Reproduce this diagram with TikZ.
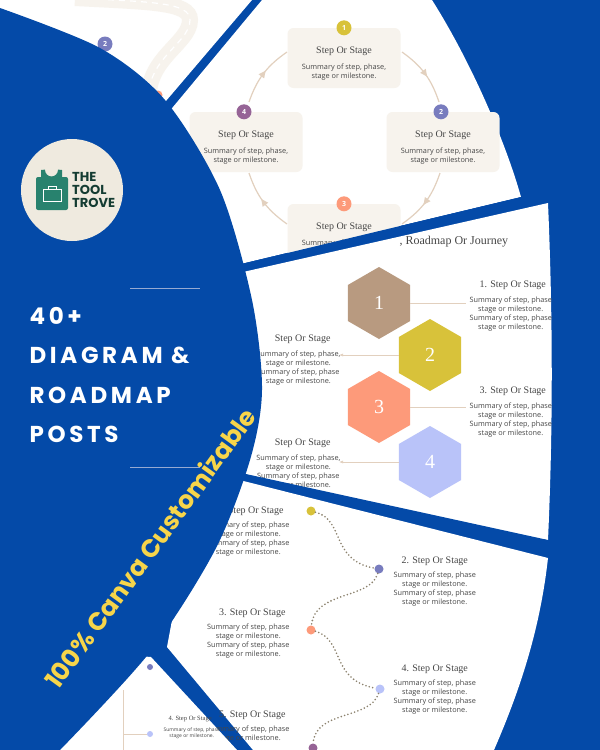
\documentclass[tikz,border=0pt]{standalone}
\usepackage{fontspec}
\setmainfont{Open Sans}
\newfontfamily\pop[LetterSpace=16]{Poppins Bold}
\newfontfamily\popb{Poppins Bold}
\newfontfamily\ser{Liberation Serif}
\usetikzlibrary{shapes.geometric,arrows.meta,decorations.markings}
\definecolor{bg}{RGB}{4,74,168}
\definecolor{cream}{RGB}{247,243,237}
\definecolor{beige}{RGB}{226,208,190}
\definecolor{cy}{RGB}{216,194,58}
\definecolor{cb}{RGB}{120,124,190}
\definecolor{cs}{RGB}{253,154,122}
\definecolor{cp}{RGB}{150,100,150}
\definecolor{cl}{RGB}{185,195,249}
\definecolor{cbr}{RGB}{184,154,128}
\definecolor{txt}{RGB}{70,70,70}
\definecolor{ylw}{RGB}{247,213,74}
\definecolor{dotc}{RGB}{140,130,110}
\definecolor{logobg}{RGB}{239,234,223}
\definecolor{logotx}{RGB}{20,60,50}
\definecolor{logog}{RGB}{40,130,110}
\definecolor{rule}{RGB}{150,170,210}
\tikzset{
 panel/.style={fill=white,draw=none},
 cbox/.style={fill=cream,rounded corners=6pt,minimum width=113pt,minimum height=60pt},
 num/.style={circle,minimum size=15pt,inner sep=0pt,text=white,font=\fontsize{7}{7}\selectfont\bfseries},
 head/.style={font=\ser\fontsize{10}{10}\selectfont,text=txt},
 summ/.style={font=\fontsize{7.3}{9}\selectfont,text=txt,align=center},
 hex/.style={regular polygon,regular polygon sides=6,shape border rotate=30,minimum size=72pt,inner sep=0pt,text=white,font=\ser\fontsize{20}{20}\selectfont},
 dot/.style={circle,minimum size=9pt,inner sep=0pt},
 cyc/.style={beige,line width=1.2pt,postaction={decorate},decoration={markings,mark=at position 0.5 with {\fill (3.5pt,0) -- (-3.5pt,3.5pt) -- (-3.5pt,-3.5pt) -- cycle;}}},
 dots/.style={draw=dotc,line width=1.8pt,dash pattern=on 0pt off 3.5pt,line cap=round},
 big/.style={text=white,font=\pop\fontsize{23}{23}\selectfont,anchor=west}
}
\begin{document}
\begin{tikzpicture}[x=1pt,y=-1pt]
\fill[bg] (0,0) rectangle (600,750);
\useasboundingbox (0,0) rectangle (600,750);
% road panel
\begin{scope}
\clip (0,0) -- (252,0) -- (160,108) -- (0,108) -- cycle;
\fill[panel] (0,0) rectangle (260,110);
\draw[cream,line width=16pt] (75,-2) .. controls (150,2) and (190,2) .. (190,20) .. controls (190,45) and (140,60) .. (150,110);
\draw[white,line width=1.2pt,dash pattern=on 6pt off 5pt] (75,-2) .. controls (150,2) and (190,2) .. (190,20) .. controls (190,45) and (140,60) .. (150,110);
\end{scope}
\node[num,fill=cb] (r2) at (105,44) {2};
\node[dot,fill=cs] (r3) at (158,95) {};
% cycle panel
\fill[panel] (262,0) -- (432,0) .. controls (470,60) and (505,140) .. (521,197) -- (190,276) -- (168,113) -- cycle;
\node[cbox] (b1) at (344,58) {};
\node[cbox] (b2) at (443,142) {};
\node[cbox] (b3) at (344,234) {};
\node[cbox] (b4) at (246,142) {};
\foreach \b in {1,2,3,4}{
 \node[head,anchor=south] (h\b) at ([yshift=-1pt]b\b.center) {Step Or Stage};
 \node[summ,anchor=north] (s\b) at ([yshift=-2pt]b\b.center) {Summary of step, phase,\\stage or milestone.};}
\node[num,fill=cy] (n1) at (b1.north) {1};
\node[num,fill=cb] (n2) at ([xshift=-2pt]b2.north) {2};
\node[num,fill=cs] (n3) at (b3.north) {3};
\node[num,fill=cp] (n4) at ([xshift=-2pt]b4.north) {4};
\coordinate (a1s) at (402,52); \coordinate (a1e) at (439,102);
\coordinate (a2s) at (440,173); \coordinate (a2e) at (402,224);
\coordinate (a3s) at (287,224); \coordinate (a3e) at (249,173);
\coordinate (a4s) at (249,102); \coordinate (a4e) at (287,52);
\draw[cyc] (a1s) to[bend left=18] (a1e);
\draw[cyc] (a2s) to[bend left=18] (a2e);
\draw[cyc] (a3s) to[bend left=18] (a3e);
\draw[cyc] (a4s) to[bend left=18] (a4e);
% stripe
\fill[bg] (521,197) -- (600,178) -- (600,300) -- (150,300) -- (150,286) -- cycle;
% hex panel
\fill[panel] (190,284) -- (548,203) .. controls (553,320) and (553,430) .. (548,540) -- (525,537) -- (200,464) -- cycle;
\node[head,font=\ser\fontsize{12}{12}\selectfont,anchor=west] (title) at (396,242) {, Roadmap Or Journey};
\node[hex,fill=cbr] (x1) at (379,303) {1};
\node[hex,fill=cy] (x2) at (430,355) {2};
\node[hex,fill=cs] (x3) at (379,407) {3};
\node[hex,fill=cl] (x4) at (430,462) {4};
\node[head,anchor=west] (t1) at (476,285) {1. Step Or Stage};
\node[summ,anchor=north west] (u1) at (466,293) {Summary of step, phase\\stage or milestone.\\Summary of step, phase\\stage or milestone.};
\node[head,anchor=west] (t3) at (476,391) {3. Step Or Stage};
\node[summ,anchor=north west] (u3) at (466,399) {Summary of step, phase\\stage or milestone.\\Summary of step, phase\\stage or milestone.};
\node[head,anchor=east] (t2) at (334,339) {Step Or Stage};
\node[summ,anchor=north east] (u2) at (344,347) {Summary of step, phase,\\stage or milestone.\\Summary of step, phase\\stage or milestone.};
\node[head,anchor=east] (t4) at (334,443) {Step Or Stage};
\node[summ,anchor=north east] (u4) at (344,451) {Summary of step, phase,\\stage or milestone.\\Summary of step, phase\\stage or milestone.};
\draw[beige,line width=0.6pt] (x1.east) -- (u1.west|-x1.east);
\draw[beige,line width=0.6pt] (x3.east) -- (u3.west|-x3.east);
\draw[beige,line width=0.6pt,-{Latex[length=4pt]}] (x2.west) -- ([xshift=-5pt]u2.east|-x2.west);
\draw[beige,line width=0.6pt,-{Latex[length=4pt]}] (x4.west) -- ([xshift=-5pt]u4.east|-x4.west);
% stripe 2
\fill[bg] (548,540) -- (600,540) -- (600,570) -- (150,470) -- (200,464) -- cycle;
% dotted panel
\fill[panel] (200,470) -- (548,558) .. controls (540,630) and (520,690) .. (494,750) -- (253,750) -- (167,647) -- cycle;
\node[dot,fill=cy] (d1) at (311,511) {};
\node[dot,fill=cb] (d2) at (379,569) {};
\node[dot,fill=cs] (d3) at (311,630) {};
\node[dot,fill=cl] (d4) at (380,689) {};
\node[dot,fill=cp] (d5) at (313,748) {};
\draw[dots] (d1) .. controls (345,520) and (330,560) .. (d2);
\draw[dots] (d2) .. controls (370,600) and (315,590) .. (d3);
\draw[dots] (d3) .. controls (345,640) and (330,680) .. (d4);
\draw[dots] (d4) .. controls (370,720) and (315,710) .. (d5);
\node[head,anchor=east] (e1) at (287,511) {1. Step Or Stage};
\node[summ,anchor=north east] (f1) at (293,518) {Summary of step, phase\\stage or milestone.\\Summary of step, phase\\stage or milestone.};
\node[head,anchor=west] (e2) at (398,561) {2. Step Or Stage};
\node[summ,anchor=north west] (f2) at (390,568) {Summary of step, phase\\stage or milestone.\\Summary of step, phase\\stage or milestone.};
\node[head,anchor=east] (e3) at (289,613) {3. Step Or Stage};
\node[summ,anchor=north east] (f3) at (293,620) {Summary of step, phase\\stage or milestone.\\Summary of step, phase\\stage or milestone.};
\node[head,anchor=west] (e4) at (398,669) {4. Step Or Stage};
\node[summ,anchor=north west] (f4) at (390,676) {Summary of step, phase\\stage or milestone.\\Summary of step, phase\\stage or milestone.};
\node[head,anchor=east] (e5) at (289,715) {5. Step Or Stage};
\node[summ,anchor=north east] (f5) at (293,722) {Summary of step, phase\\stage or milestone.};
% bottom-left panel
\fill[panel] (60,650) -- (151,657) -- (237,750) -- (60,750) -- cycle;
\draw[beige,line width=0.6pt] (123,690) -- (123,750);
\node[dot,fill=cl,minimum size=6pt] (g4) at (150,734) {};
\draw[beige,line width=0.6pt] (123,734) -- (g4);
\node[dot,fill=cb,minimum size=6pt] (g3) at (150,667) {};
\node[head,font=\ser\fontsize{6.5}{7}\selectfont,anchor=west] (k4) at (165,719) {4. Step Or Stage};
\node[summ,font=\fontsize{5}{6}\selectfont,anchor=north west] (m4) at (160,724) {Summary of step, phase\\stage or milestone.};
% big blue shape
\fill[bg] plot[smooth] coordinates {(0,8) (100,48) (165,100) (220,190) (252,300) (262,390) (250,460) (215,550) (150,652) (60,750)} -- (0,750) -- cycle;
% logo
\node[circle,fill=logobg,minimum size=102pt] (logo) at (72,190) {};
\node[font=\popb\fontsize{13}{13}\selectfont,text=logotx,align=left,anchor=west,inner sep=0pt] (lt) at (72,190) {THE\\TOOL\\TROVE};
\fill[logog,rounded corners=2pt] (36,177) rectangle (68,210);
\draw[logog,line width=4pt] (43,178) -- (43,170) arc[start angle=180,end angle=0,radius=8.5] -- (60,178);
\draw[white,line width=0.8pt] (43,189) rectangle (61,201) (48,189) -- (48,186) -- (56,186) -- (56,189);
% headline
\draw[rule,line width=0.8pt] (130,288) -- (200,288);
\draw[rule,line width=0.8pt] (130,467) -- (200,467);
\node[big] (l1) at (26,316) {40+};
\node[big] (l2) at (26,355) {DIAGRAM \&};
\node[big] (l3) at (26,395) {ROADMAP};
\node[big] (l4) at (26,434) {POSTS};
\node[text=ylw,font=\popb\fontsize{25}{25}\selectfont,rotate=54] (cc) at (150,548) {100\% Canva Customizable};
\end{tikzpicture}
\end{document}
